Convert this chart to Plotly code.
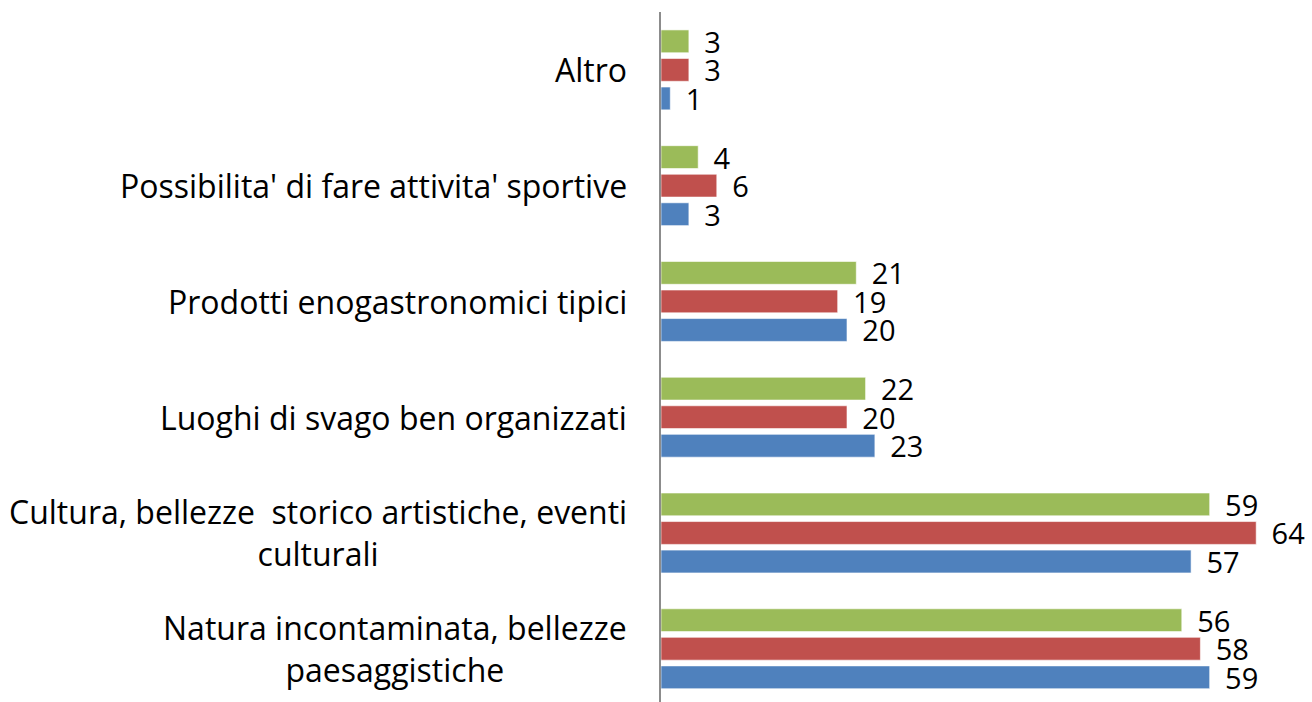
import plotly.graph_objects as go

categories = [
    "Natura incontaminata, bellezze<br>paesaggistiche",
    "Cultura, bellezze  storico artistiche, eventi<br>culturali",
    "Luoghi di svago ben organizzati",
    "Prodotti enogastronomici tipici",
    "Possibilita' di fare attivita' sportive",
    "Altro",
]
series_blue = [59, 57, 23, 20, 3, 1]
series_red = [58, 64, 20, 19, 6, 3]
series_green = [56, 59, 22, 21, 4, 3]

colors = ["#4F81BD", "#C0504D", "#9BBB59"]
FONT = "Open Sans"

fig = go.Figure()
for vals, col in zip([series_blue, series_red, series_green], colors):
    fig.add_trace(go.Bar(
        y=categories, x=vals, orientation="h",
        marker=dict(color=col, line=dict(color="rgba(255,255,255,0.6)", width=1)),
        text=[f" \u2009{v}" for v in vals], textposition="outside",
        constraintext="none",
        textfont=dict(family=FONT, size=29, color="#000000"),
        cliponaxis=False, showlegend=False,
    ))

for c in categories:
    fig.add_annotation(
        x=0, xref="paper", y=c, yref="y", xanchor="right", yanchor="middle",
        xshift=-32, text=c, showarrow=False, align="center",
        font=dict(family=FONT, size=32, color="#000000"),
    )

fig.update_layout(
    width=1312, height=702,
    margin=dict(l=661, r=0, t=12, b=0),
    barmode="group", bargap=0.26, bargroupgap=0.2,
    plot_bgcolor="white", paper_bgcolor="white",
)
fig.update_xaxes(range=[0, 70], showgrid=False, showticklabels=False, zeroline=False,
                 showline=False, ticks="")
fig.update_yaxes(showticklabels=False, showgrid=False, showline=True, linecolor="#8C8C8C",
                 linewidth=1.5, ticks="", categoryorder="array", categoryarray=categories,
                 range=[-0.46, 5.5])

fig.write_html(
    "out.html",
    config={"displayModeBar": False},
    post_script="document.body.style.margin='0';document.body.style.overflow='hidden';",
)
